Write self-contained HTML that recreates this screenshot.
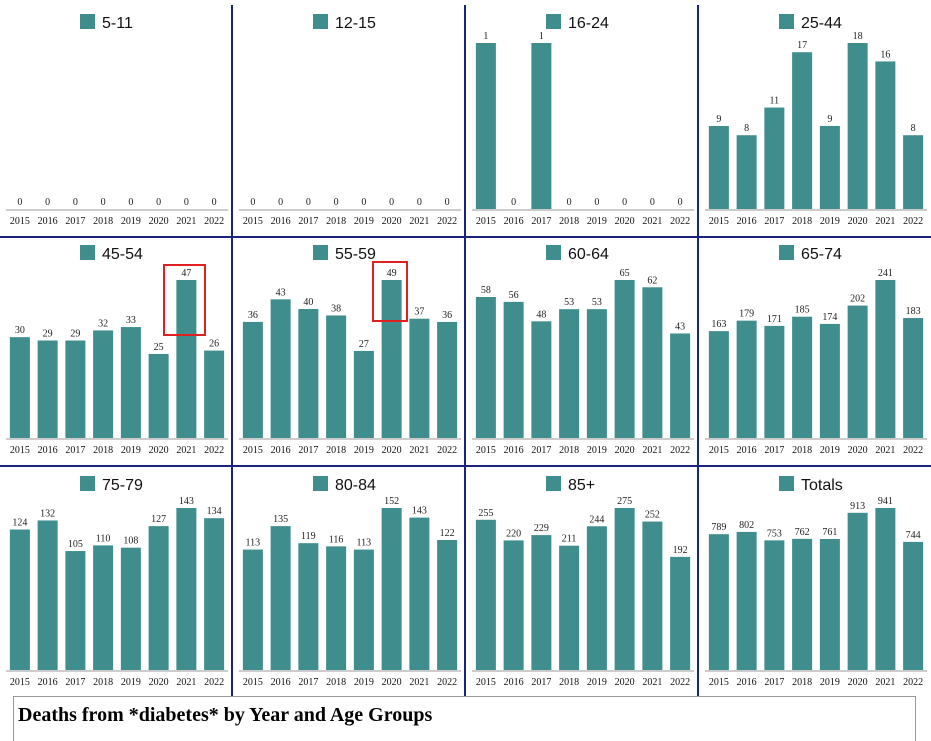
<!DOCTYPE html>
<html><head><meta charset="utf-8"><style>
html,body{margin:0;padding:0;background:#fff;}
svg{display:block;}
</style></head><body>
<svg id="chart" width="931" height="741" xmlns="http://www.w3.org/2000/svg">
</svg>
<script>
const years = ['2015','2016','2017','2018','2019','2020','2021','2022'];
const groups = ['5-11','12-15','16-24','25-44','45-54','55-59','60-64','65-74','75-79','80-84','85+','Totals'];
const v5_11 = [0,0,0,0,0,0,0,0];
const v12_15 = [0,0,0,0,0,0,0,0];
const v16_24 = [1,0,1,0,0,0,0,0];
const v25_44 = [9,8,11,17,9,18,16,8];
const v45_54 = [30,29,29,32,33,25,47,26];
const v55_59 = [36,43,40,38,27,49,37,36];
const v60_64 = [58,56,48,53,53,65,62,43];
const v65_74 = [163,179,171,185,174,202,241,183];
const v75_79 = [124,132,105,110,108,127,143,134];
const v80_84 = [113,135,119,116,113,152,143,122];
const v85p = [255,220,229,211,244,275,252,192];
const vTotals = [789,802,753,762,761,913,941,744];
const series = [v5_11,v12_15,v16_24,v25_44,v45_54,v55_59,v60_64,v65_74,v75_79,v80_84,v85p,vTotals];

const NS='http://www.w3.org/2000/svg';
const svg=document.getElementById('chart');
function mk(tag,attrs,parent){const e=document.createElementNS(NS,tag);for(const k in attrs)e.setAttribute(k,attrs[k]);(parent||svg).appendChild(e);return e;}
const TEAL='#3f8d8d';
const rowBase=[209,438,670], rowTop=[43,280,508], rowLegend=[22,253,484];
const colX=[6,239,472,705], W=222;

series.forEach((vals,i)=>{
  const r=Math.floor(i/4), c=i%4;
  const g=mk('g',{});
  
  
  const x0=colX[c], base=rowBase[r], h=base-rowTop[r];
  const max=Math.max(...vals)||1;
  const slot=W/8;
  const cx=x0+W/2;
  const lg=mk('rect',{x:cx-37,y:rowLegend[r]-8,width:15,height:15,fill:TEAL},g);
  
  
  const lt=mk('text',{x:cx-15,y:rowLegend[r]+6,'font-family':'Liberation Sans, sans-serif','font-size':16,fill:'#111'},g);
  lt.textContent=groups[i];
  
  
  vals.forEach((v,j)=>{
    const bx=x0+slot*j+slot/2;
    const bh=v/max*h;
    if(v>0){
      const b=mk('rect',{x:bx-10,y:base-bh,width:20,height:bh,fill:TEAL},g);
      
      
    }
    const t=mk('text',{x:bx,y:base-bh-4,'text-anchor':'middle','font-family':'Liberation Serif, serif','font-size':10,fill:'#222'},g);
    t.textContent=v;
    
    
    const yl=mk('text',{x:bx,y:base+15,'text-anchor':'middle','font-family':'Liberation Serif, serif','font-size':10,fill:'#111'},g);
    yl.textContent=years[j];
    
    
  });
  const ax=mk('line',{x1:x0,x2:x0+W,y1:base+1,y2:base+1,stroke:'#bbb','stroke-width':1.5},g);
  
  
});
[232,465,698].forEach(x=>{
  const l=mk('line',{x1:x,x2:x,y1:5,y2:696,stroke:'#1a237e','stroke-width':2});
  
  
});
[237,466].forEach(y=>{
  const l=mk('line',{x1:0,x2:931,y1:y,y2:y,stroke:'#1a237e','stroke-width':2});
  
  
});
const h1=mk('rect',{x:164,y:265,width:41,height:70,fill:'none',stroke:'#e02020','stroke-width':2});


const h2=mk('rect',{x:373,y:262,width:34,height:59,fill:'none',stroke:'#e02020','stroke-width':2});


const box=mk('rect',{x:13.5,y:696.5,width:902,height:46,fill:'#fff',stroke:'#999','stroke-width':1});


const tt=mk('text',{x:18,y:721,'font-family':'Liberation Serif, serif','font-size':20,'font-weight':'bold',fill:'#000'});
tt.textContent='Deaths from *diabetes* by Year and Age Groups';


</script>
</body></html>
